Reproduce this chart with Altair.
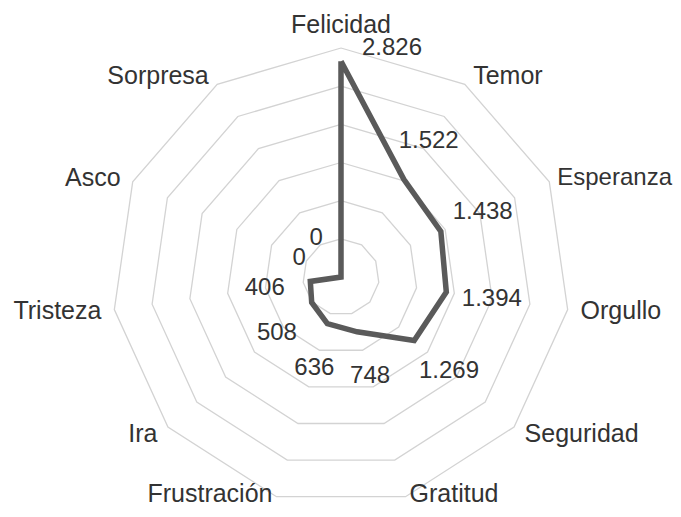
import math
import altair as alt
import pandas as pd

categories = ["Felicidad", "Temor", "Esperanza", "Orgullo", "Seguridad", "Gratitud",
              "Frustración", "Ira", "Tristeza", "Asco", "Sorpresa"]
values = [2826, 1522, 1438, 1394, 1269, 748, 636, 508, 406, 0, 0]
ring_levels = [500, 1000, 1500, 2000, 2500, 3000]

N = len(categories)
W, H = 665, 501
CX, CY = 333, 269          # centre of the radar in plot pixels
RMAX = 3000
K = 229 / RMAX             # pixels per data unit


def ang(i):
    return 2 * math.pi * i / N


def fmt(v):
    return f"{v:,}".replace(",", ".")


# grid rings
ring_rows = []
for lv in ring_levels:
    for j in range(N + 1):
        a = ang(j % N)
        ring_rows.append({"ring": lv, "ord": j, "x": lv * math.sin(a), "y": lv * math.cos(a)})
rings_df = pd.DataFrame(ring_rows)

# series polygon
line_rows = []
for j in range(N + 1):
    i = j % N
    a = ang(i)
    line_rows.append({"ord": j, "cat": categories[i], "v": values[i],
                      "x": values[i] * math.sin(a), "y": values[i] * math.cos(a)})
line_df = pd.DataFrame(line_rows)

# value labels (radially outward from the point)
OFF = 46 / K
val_rows = []
for i in range(N):
    a = ang(i)
    r = values[i] + OFF
    val_rows.append({"i": i, "label": fmt(values[i]),
                     "x": r * math.sin(a), "y": r * math.cos(a),
                     "px": values[i] * math.sin(a), "py": values[i] * math.cos(a)})
val_df = pd.DataFrame(val_rows)

# category labels
cat_rows = []
for i in range(N):
    a = ang(i)
    s, c = math.sin(a), math.cos(a)
    vx, vy = RMAX * s, RMAX * c
    if abs(s) < 0.05:
        side = "top"
        x, y = vx, vy + 10 / K
    elif c < -0.9:
        side = "bottomL" if s > 0 else "bottomR"
        x, y = vx + (4 if s > 0 else -4) / K, vy - 10.5 / K
    else:
        side = "left" if s > 0 else "right"
        x = vx + 10 / K * s + (3 if s > 0 else -3) / K
        y = vy + 10 / K * c
    cat_rows.append({"cat": categories[i], "side": side, "x": x, "y": y})
cat_df = pd.DataFrame(cat_rows)

# a label that would run past the right edge is right-aligned at the edge
EDGE = ["Esperanza"]
cat_df.loc[cat_df.cat.isin(EDGE), "side"] = "edge"
cat_df.loc[cat_df.cat.isin(EDGE), "x"] = (W - 1 - CX) / K

xs = alt.Scale(domain=[-CX / K, (W - CX) / K], nice=False, zero=False)
ys = alt.Scale(domain=[-(H - CY) / K, CY / K], nice=False, zero=False)
X = alt.X("x:Q", scale=xs, axis=None)
Y = alt.Y("y:Q", scale=ys, axis=None)

TEXT = "#333333"
FONT = "Liberation Sans"

rings = alt.Chart(rings_df).mark_line(color="#d3d3d3", strokeWidth=1.3).encode(
    x=X, y=Y, detail="ring:N", order="ord:Q")

series = alt.Chart(line_df).mark_line(color="#5a5a5a", strokeWidth=5.5,
                                      strokeJoin="miter").encode(
    x=X, y=Y, order="ord:Q")

vals = alt.Chart(val_df[val_df.i > 0]).mark_text(
    font=FONT, fontSize=24, color=TEXT, align="center", baseline="middle").encode(
    x=X, y=Y, text="label:N")

val_top = alt.Chart(val_df[val_df.i == 0]).mark_text(
    font=FONT, fontSize=24, color=TEXT, align="center", baseline="middle",
    dx=51, dy=-13).encode(
    x=alt.X("px:Q", scale=xs, axis=None), y=alt.Y("py:Q", scale=ys, axis=None),
    text="label:N")

cat_layers = []
for side, align, base, size in [("left", "left", "middle", 25),
                                ("right", "right", "middle", 25),
                                ("top", "center", "bottom", 25),
                                ("bottomL", "left", "bottom", 25),
                                ("bottomR", "right", "bottom", 25),
                                ("edge", "right", "middle", 24)]:
    cat_layers.append(
        alt.Chart(cat_df[cat_df.side == side]).mark_text(
            font=FONT, fontSize=size, color=TEXT, align=align, baseline=base).encode(
            x=X, y=Y, text="cat:N"))

chart = alt.layer(rings, series, vals, val_top, *cat_layers).properties(
    width=W, height=H, padding=0,
    autosize=alt.AutoSizeParams(type="none"),
).configure_view(stroke=None)

chart.save("out.html", embed_options={"renderer": "svg", "actions": False})
